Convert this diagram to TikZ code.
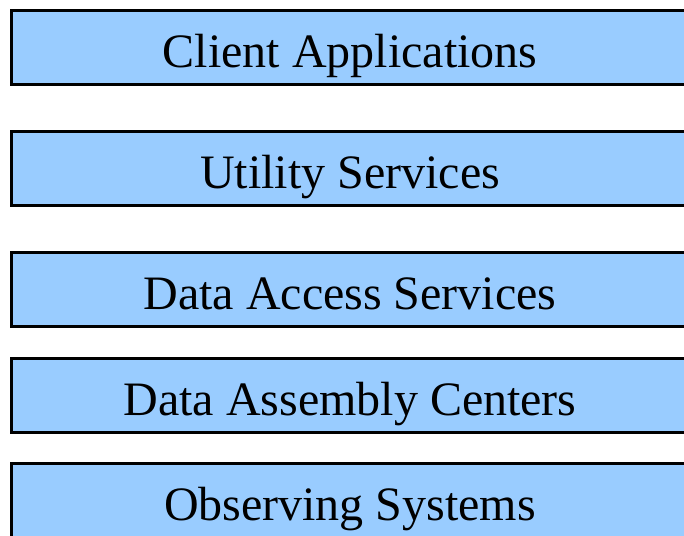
\documentclass[tikz,border=0pt]{standalone}
\usepackage{fontspec}
\setmainfont{Liberation Serif}
\usepackage{tikz}
\usetikzlibrary{positioning}
\usepackage{xcolor}
\definecolor{layerblue}{RGB}{153,204,255}
\tikzstyle{layer} = [rectangle, minimum width=677pt, minimum height=74pt, text height=46pt, text depth=6pt, text centered, draw=black, fill=layerblue, line width=3pt, font=\fontsize{48}{58}\selectfont]

\begin{document}
\begin{tikzpicture}
\path[use as bounding box, clip] (0,0) rectangle (684pt,-535pt);
\node (client) [layer] at (350pt,-47.5pt) {Client Applications};
\node (utility) [layer, below=44pt of client] {Utility Services};
\node (access) [layer, below=44pt of utility] {Data Access Services};
\node (assembly) [layer, below=29pt of access] {Data Assembly Centers};
\node (observing) [layer, below=28pt of assembly] {Observing Systems};
\end{tikzpicture}
\end{document}
